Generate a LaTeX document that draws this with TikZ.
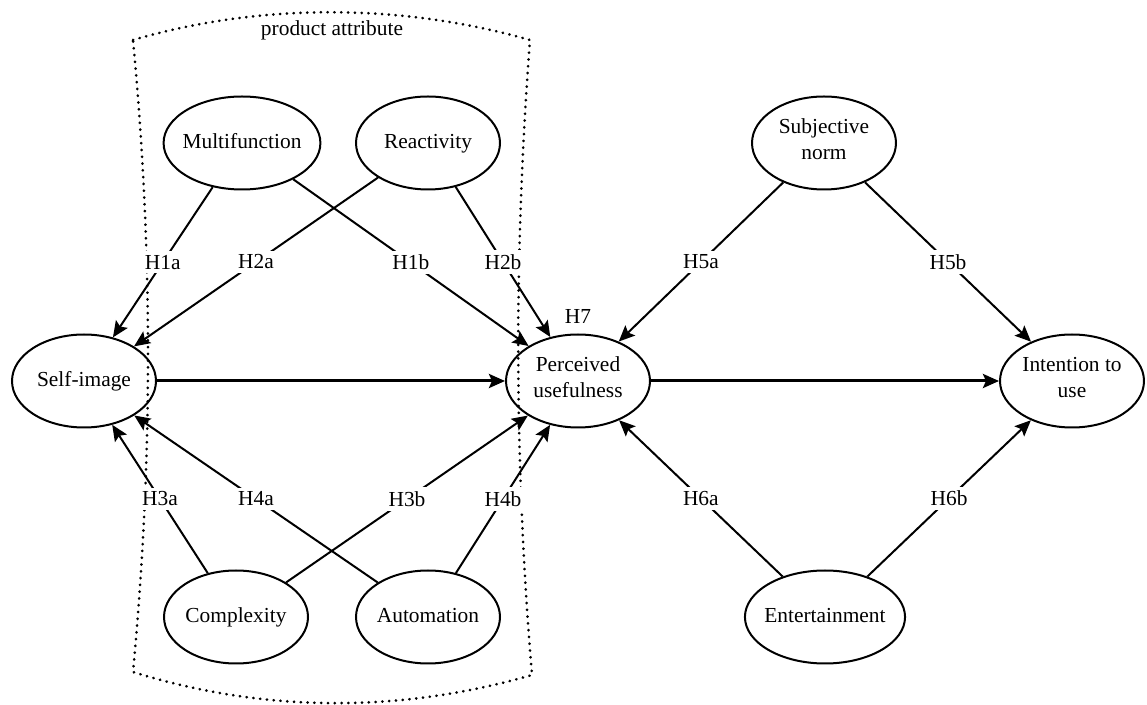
\documentclass[tikz,border=0pt]{standalone}
\usepackage{amsmath}
\usepackage{fontspec}
\setmainfont{Liberation Serif}
\usetikzlibrary{shapes.geometric,arrows.meta,positioning}

\begin{document}
\begin{tikzpicture}[x=0.5pt, y=-0.5pt,
        font=\fontsize{10.7}{13}\selectfont,
        var/.style={ellipse, draw, line width=1pt, align=center, inner xsep=-2pt, inner ysep=0pt, minimum width=72pt, minimum height=46.5pt, execute at begin node=\strut, execute at end node=\strut},
        hyp/.style={fill=white, inner sep=2pt},
        arr/.style={line width=1pt, -{Stealth[length=8pt, width=7pt, inset=1.5pt]}},
        arrg/.style={arr, line width=1.5pt}]
        \useasboundingbox (0,0) rectangle (1147,705);
        % Requadre puntejat (atributs del producte)
        \draw[line width=1.4pt, line cap=round, dash pattern=on 0.1pt off 3.3pt]
            (133,40) .. controls (260,3) and (400,3) .. (530,40)
            .. controls (514,250) and (514,460) .. (532,675)
            .. controls (400,713) and (265,713) .. (133,672)
            .. controls (153,460) and (153,250) .. cycle;
        \node (pa) at (332,30) {product attribute};
        % Variables
        \node[var] (mf) at (242,143) {Multifunction};
        \node[var] (re) at (428,143) {Reactivity};
        \node[var] (si) at (84,381) {Self-image};
        \node[var] (pu) at (578,381) {Perceived\\usefulness};
        \node[var] (cx) at (236,617) {Complexity};
        \node[var] (au) at (428,617) {Automation};
        \node[var] (sn) at (824,143) {Subjective\\norm};
        \node[var] (itu) at (1072,381) {Intention to\\use};
        \node[var] (en) at (825,617) {Entertainment};
        \node[above=3pt of pu, inner sep=2pt] (h7) {H7};
        % Hipotesis
        \draw[arr] (mf) -- node[hyp] {H1a} (si);
        \draw[arr] (re) -- node[hyp] {H2a} (si);
        \draw[arr] (mf) -- node[hyp] {H1b} (pu);
        \draw[arr] (re) -- node[hyp] {H2b} (pu);
        \draw[arr] (cx) -- node[hyp] {H3a} (si);
        \draw[arr] (au) -- node[hyp] {H4a} (si);
        \draw[arr] (cx) -- node[hyp] {H3b} (pu);
        \draw[arr] (au) -- node[hyp] {H4b} (pu);
        \draw[arr] (sn) -- node[hyp] {H5a} (pu);
        \draw[arr] (sn) -- node[hyp] {H5b} (itu);
        \draw[arr] (en) -- node[hyp] {H6a} (pu);
        \draw[arr] (en) -- node[hyp] {H6b} (itu);
        \draw[arrg] (si) -- (pu);
        \draw[arrg] (pu) -- (itu);
\end{tikzpicture}
\end{document}
